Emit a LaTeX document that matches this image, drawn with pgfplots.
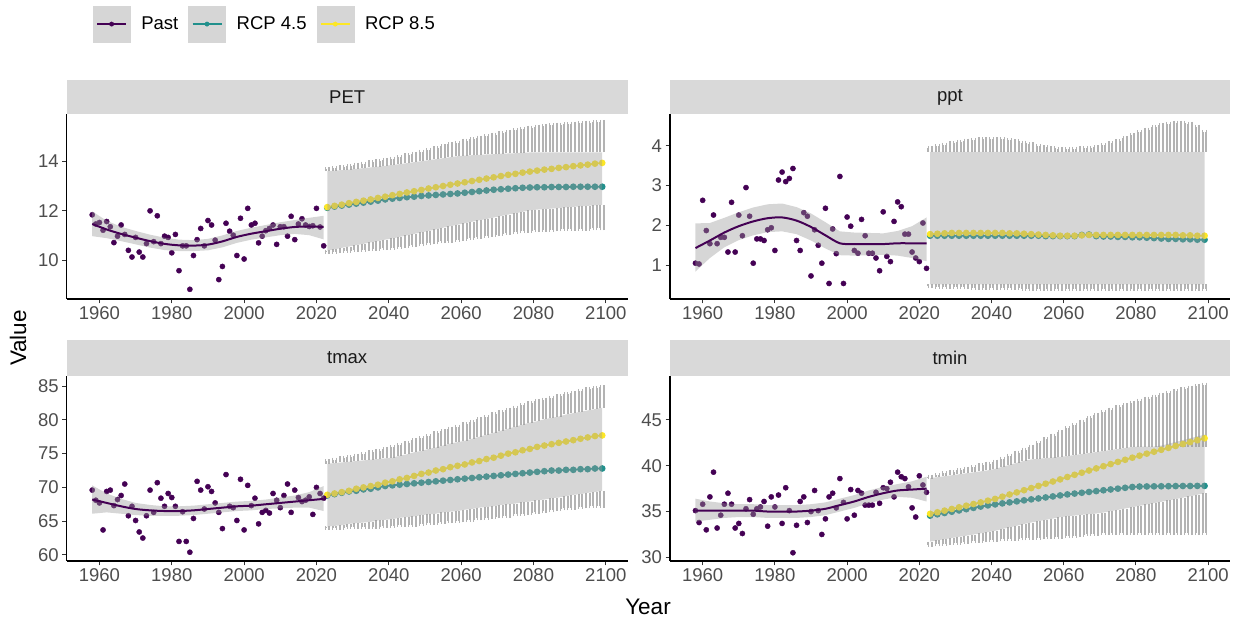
\documentclass[border=0pt]{standalone}
\usepackage{pgfplots}
\pgfplotsset{compat=1.18}
\usepackage{pgfplotstable}
\usepackage{fontspec}
\setmainfont{Liberation Sans}

\definecolor{pastc}{HTML}{440154}
\definecolor{rcpa}{HTML}{21908C}
\definecolor{rcpb}{HTML}{FDE725}
\definecolor{barc}{HTML}{B3B3B3}
\definecolor{ribc}{HTML}{999999}
\definecolor{stripc}{HTML}{D9D9D9}
\definecolor{keyc}{HTML}{D6D6D6}
\definecolor{labc}{HTML}{4D4D4D}
\definecolor{ticc}{HTML}{333333}
\definecolor{stxt}{HTML}{1A1A1A}

% ---------------- PET ----------------
\pgfplotstableread{
yr v
1958 11.84
1959 11.47
1960 11.53
1961 11.22
1962 11.57
1963 11.36
1964 10.72
1965 10.98
1966 11.43
1967 11.05
1968 10.41
1969 10.14
1970 10.93
1971 10.34
1972 10.14
1973 10.68
1974 12.00
1975 10.76
1976 11.80
1977 10.68
1978 10.98
1979 10.93
1980 10.31
1981 11.05
1982 9.59
1983 10.59
1984 10.59
1985 8.84
1986 10.20
1987 10.84
1988 11.29
1989 10.59
1990 11.61
1991 11.43
1992 10.82
1993 9.23
1994 9.76
1995 11.50
1996 11.18
1997 11.02
1998 10.20
1999 11.70
2000 10.06
2001 12.10
2002 11.43
2003 11.50
2004 10.71
2005 10.98
2006 11.20
2007 11.29
2008 11.43
2009 10.65
2010 11.36
2011 11.36
2012 10.98
2013 11.78
2014 10.84
2015 11.47
2016 11.68
2017 11.43
2018 11.37
2019 11.40
2020 12.10
2021 11.35
2022 10.59
}\petP
\pgfplotstableread{
yr s lo hi
1958 11.47 10.98 11.98
1962 11.25 10.90 11.60
1966 11.07 10.78 11.36
1970 10.92 10.65 11.19
1974 10.78 10.52 11.04
1978 10.67 10.42 10.92
1982 10.61 10.38 10.84
1986 10.60 10.38 10.82
1990 10.64 10.41 10.87
1994 10.77 10.53 11.01
1998 10.95 10.71 11.19
2002 11.08 10.84 11.32
2006 11.18 10.93 11.43
2010 11.28 11.02 11.54
2014 11.35 11.07 11.63
2018 11.37 11.02 11.72
2022 11.35 10.85 11.80
}\petS
\pgfplotstableread{
yr a b rl rh u l
2023 12.12 12.15 10.40 13.60 13.67 10.34
2025 12.17 12.20 10.45 13.62 13.71 10.36
2027 12.21 12.25 10.51 13.64 13.76 10.38
2029 12.25 12.31 10.56 13.66 13.81 10.40
2031 12.29 12.36 10.62 13.69 13.86 10.42
2033 12.33 12.41 10.67 13.72 13.90 10.44
2035 12.37 12.46 10.73 13.75 13.95 10.46
2037 12.41 12.52 10.78 13.78 14.00 10.48
2039 12.46 12.57 10.84 13.81 14.05 10.50
2041 12.49 12.63 10.89 13.85 14.10 10.52
2043 12.52 12.68 10.95 13.88 14.15 10.54
2045 12.55 12.74 11.01 13.92 14.23 10.58
2047 12.57 12.79 11.07 13.96 14.30 10.62
2049 12.60 12.84 11.13 14.00 14.38 10.65
2051 12.62 12.90 11.19 14.04 14.45 10.69
2053 12.64 12.95 11.25 14.08 14.53 10.73
2055 12.66 13.00 11.32 14.12 14.60 10.77
2057 12.68 13.05 11.38 14.16 14.68 10.80
2059 12.70 13.10 11.44 14.20 14.75 10.84
2061 12.73 13.15 11.50 14.22 14.83 10.88
2063 12.76 13.20 11.56 14.24 14.89 10.92
2065 12.79 13.25 11.62 14.25 14.95 10.95
2067 12.82 13.30 11.67 14.27 15.01 10.99
2069 12.85 13.35 11.73 14.28 15.07 11.03
2071 12.87 13.40 11.79 14.30 15.12 11.06
2073 12.89 13.45 11.85 14.31 15.18 11.10
2075 12.91 13.49 11.90 14.32 15.24 11.13
2077 12.93 13.54 11.96 14.34 15.30 11.17
2079 12.94 13.58 12.02 14.35 15.35 11.20
2081 12.95 13.62 12.05 14.35 15.39 11.22
2083 12.95 13.66 12.07 14.35 15.42 11.23
2085 12.96 13.69 12.09 14.35 15.44 11.24
2087 12.96 13.73 12.11 14.35 15.47 11.25
2089 12.96 13.76 12.14 14.35 15.49 11.26
2091 12.97 13.80 12.16 14.35 15.51 11.27
2093 12.97 13.83 12.18 14.35 15.53 11.27
2095 12.97 13.86 12.20 14.35 15.55 11.28
2097 12.97 13.90 12.22 14.35 15.57 11.29
2099 12.97 13.93 12.24 14.35 15.58 11.29
}\petF

% ---------------- ppt ----------------
\pgfplotstableread{
yr v
1958 1.05
1959 1.03
1960 2.63
1961 1.87
1962 1.54
1963 2.26
1964 1.54
1965 1.70
1966 1.70
1967 1.33
1968 2.58
1969 1.33
1970 2.26
1971 1.74
1972 2.95
1973 2.23
1974 1.05
1975 1.66
1976 1.66
1977 1.62
1978 1.89
1979 1.94
1980 1.37
1981 3.14
1982 3.34
1983 3.10
1984 3.18
1985 3.43
1986 1.62
1987 1.37
1988 2.32
1989 2.23
1990 0.73
1991 1.89
1992 1.50
1993 1.05
1994 2.43
1995 0.54
1996 1.91
1997 1.29
1998 3.23
1999 0.54
2000 2.21
2001 1.98
2002 1.37
2003 1.30
2004 2.15
2005 1.74
2006 1.30
2007 1.30
2008 1.18
2009 0.86
2010 2.34
2011 1.22
2012 1.09
2013 2.10
2014 2.59
2015 2.47
2016 1.78
2017 1.78
2018 1.33
2019 1.18
2020 1.09
2021 2.06
2022 0.92
}\pptP
\pgfplotstableread{
yr s lo hi
1958 1.43 0.84 2.05
1962 1.62 1.18 2.06
1966 1.82 1.45 2.19
1970 1.98 1.63 2.33
1974 2.10 1.75 2.45
1978 2.18 1.83 2.53
1982 2.20 1.85 2.55
1986 2.12 1.78 2.46
1990 1.96 1.62 2.30
1994 1.75 1.42 2.08
1998 1.55 1.25 1.85
2002 1.53 1.24 1.82
2006 1.53 1.25 1.81
2010 1.53 1.26 1.80
2014 1.55 1.24 1.86
2018 1.55 1.18 1.98
2022 1.55 1.10 2.20
}\pptS
\pgfplotstableread{
yr a b rl rh u l
2023 1.74 1.78 0.52 3.85 3.94 0.47
2025 1.74 1.79 0.52 3.85 3.99 0.46
2027 1.74 1.80 0.52 3.85 4.03 0.45
2029 1.74 1.81 0.52 3.85 4.07 0.45
2031 1.74 1.81 0.52 3.85 4.10 0.44
2033 1.74 1.81 0.52 3.85 4.13 0.44
2035 1.74 1.81 0.52 3.85 4.15 0.43
2037 1.74 1.81 0.52 3.85 4.16 0.43
2039 1.74 1.81 0.52 3.85 4.17 0.43
2041 1.74 1.81 0.52 3.85 4.17 0.42
2043 1.74 1.81 0.52 3.85 4.16 0.42
2045 1.74 1.80 0.52 3.85 4.14 0.42
2047 1.74 1.80 0.52 3.85 4.11 0.42
2049 1.74 1.79 0.52 3.85 4.08 0.41
2051 1.74 1.78 0.52 3.85 4.04 0.41
2053 1.74 1.77 0.52 3.85 4.00 0.41
2055 1.73 1.76 0.52 3.85 3.97 0.40
2057 1.73 1.75 0.52 3.85 3.94 0.40
2059 1.73 1.74 0.52 3.85 3.92 0.40
2061 1.73 1.74 0.52 3.85 3.92 0.40
2063 1.73 1.74 0.52 3.85 3.93 0.40
2065 1.76 1.75 0.52 3.85 3.94 0.40
2067 1.77 1.76 0.52 3.85 3.95 0.40
2069 1.73 1.76 0.52 3.85 3.97 0.40
2071 1.72 1.76 0.52 3.85 4.01 0.40
2073 1.72 1.76 0.52 3.85 4.06 0.40
2075 1.71 1.76 0.52 3.85 4.12 0.40
2077 1.71 1.76 0.52 3.85 4.19 0.40
2079 1.70 1.76 0.52 3.85 4.27 0.40
2081 1.70 1.76 0.52 3.85 4.34 0.40
2083 1.69 1.76 0.52 3.85 4.41 0.40
2085 1.68 1.76 0.52 3.85 4.47 0.40
2087 1.67 1.76 0.52 3.85 4.52 0.40
2089 1.66 1.76 0.52 3.85 4.56 0.40
2091 1.66 1.76 0.52 3.85 4.58 0.40
2093 1.65 1.75 0.52 3.85 4.58 0.40
2095 1.65 1.75 0.52 3.85 4.56 0.40
2097 1.64 1.74 0.52 3.85 4.48 0.40
2099 1.64 1.74 0.52 3.85 4.35 0.40
}\pptF

% ---------------- tmax ----------------
\pgfplotstableread{
yr v
1958 69.6
1959 68.1
1960 67.7
1961 63.7
1962 69.4
1963 69.6
1964 67.3
1965 68.2
1966 68.8
1967 70.5
1968 65.8
1969 67.2
1970 65.1
1971 63.4
1972 62.5
1973 65.8
1974 69.6
1975 66.3
1976 70.7
1977 68.4
1978 67.2
1979 69.1
1980 68.5
1981 67.2
1982 62.0
1983 66.4
1984 62.0
1985 60.4
1986 65.4
1987 70.9
1988 69.6
1989 66.8
1990 70.1
1991 69.4
1992 67.7
1993 66.3
1994 63.9
1995 71.9
1996 67.2
1997 67.0
1998 65.1
1999 71.2
2000 63.7
2001 70.3
2002 67.3
2003 68.4
2004 64.6
2005 66.3
2006 66.6
2007 66.2
2008 69.1
2009 68.1
2010 67.0
2011 68.8
2012 70.5
2013 66.3
2014 69.6
2015 68.5
2016 67.9
2017 68.1
2018 68.6
2019 66.0
2020 70.0
2021 69.1
2022 68.4
}\tmaxP
\pgfplotstableread{
yr s lo hi
1958 68.2 66.1 70.3
1962 67.7 66.3 69.1
1966 67.2 66.1 68.3
1970 66.8 65.9 67.7
1974 66.6 65.8 67.4
1978 66.5 65.8 67.2
1982 66.5 65.8 67.2
1986 66.6 65.9 67.3
1990 66.8 66.1 67.5
1994 67.0 66.3 67.7
1998 67.2 66.5 67.9
2002 67.3 66.6 68.0
2006 67.5 66.8 68.2
2010 67.7 66.9 68.5
2014 67.9 67.0 68.8
2018 68.1 67.0 69.3
2022 68.3 66.5 70.2
}\tmaxS
\pgfplotstableread{
yr a b rl rh u l
2023 68.8 68.9 64.2 73.5 73.9 64.0
2025 69.0 69.1 64.3 73.6 74.1 64.0
2027 69.2 69.3 64.4 73.7 74.3 64.0
2029 69.4 69.5 64.6 73.8 74.5 64.1
2031 69.5 69.8 64.7 73.9 74.7 64.1
2033 69.7 70.0 64.8 74.0 74.9 64.1
2035 69.8 70.2 64.9 74.1 75.2 64.2
2037 70.0 70.4 65.1 74.2 75.4 64.2
2039 70.2 70.7 65.2 74.3 75.7 64.3
2041 70.3 70.9 65.3 74.4 76.0 64.3
2043 70.4 71.2 65.5 74.7 76.3 64.4
2045 70.5 71.4 65.6 74.9 76.6 64.5
2047 70.6 71.7 65.7 75.2 77.0 64.5
2049 70.7 72.0 65.9 75.4 77.3 64.6
2051 70.8 72.2 66.0 75.7 77.6 64.7
2053 70.9 72.5 66.1 75.9 78.0 64.8
2055 71.0 72.7 66.3 76.2 78.3 64.9
2057 71.1 73.0 66.4 76.5 78.7 65.0
2059 71.2 73.2 66.5 76.7 79.0 65.0
2061 71.3 73.4 66.7 76.9 79.4 65.1
2063 71.4 73.7 66.8 77.2 79.7 65.2
2065 71.5 73.9 67.0 77.5 80.1 65.4
2067 71.6 74.2 67.1 77.8 80.4 65.5
2069 71.7 74.4 67.2 78.1 80.8 65.6
2071 71.8 74.7 67.4 78.4 81.1 65.7
2073 71.9 75.0 67.5 78.7 81.5 65.8
2075 72.0 75.2 67.6 79.0 81.8 66.0
2077 72.1 75.5 67.8 79.3 82.2 66.1
2079 72.2 75.7 67.9 79.6 82.5 66.2
2081 72.3 76.0 68.1 79.8 82.8 66.4
2083 72.4 76.2 68.2 80.1 83.0 66.5
2085 72.5 76.4 68.4 80.3 83.3 66.6
2087 72.5 76.6 68.5 80.5 83.5 66.8
2089 72.6 76.8 68.7 80.8 83.8 66.9
2091 72.6 77.0 68.9 81.0 84.0 67.0
2093 72.7 77.2 69.0 81.2 84.3 67.1
2095 72.7 77.4 69.2 81.4 84.5 67.2
2097 72.8 77.6 69.3 81.6 84.7 67.3
2099 72.8 77.7 69.5 81.8 84.8 67.3
}\tmaxF

% ---------------- tmin ----------------
\pgfplotstableread{
yr v
1958 35.1
1959 33.8
1960 35.8
1961 33.0
1962 36.6
1963 39.3
1964 33.2
1965 34.6
1966 35.8
1967 37.0
1968 35.8
1969 33.2
1970 33.7
1971 32.6
1972 35.3
1973 36.3
1974 34.7
1975 35.3
1976 35.5
1977 36.1
1978 33.4
1979 36.6
1980 35.5
1981 36.8
1982 33.7
1983 37.6
1984 35.1
1985 30.5
1986 33.5
1987 36.1
1988 36.6
1989 33.8
1990 35.0
1991 37.3
1992 35.1
1993 32.5
1994 34.2
1995 36.6
1996 37.0
1997 35.4
1998 38.6
1999 36.0
2000 34.2
2001 37.4
2002 34.6
2003 37.3
2004 37.0
2005 35.7
2006 35.7
2007 35.7
2008 37.1
2009 35.9
2010 37.6
2011 37.5
2012 38.2
2013 36.6
2014 39.3
2015 38.8
2016 38.6
2017 37.7
2018 35.4
2019 34.4
2020 38.9
2021 37.9
2022 37.1
}\tminP
\pgfplotstableread{
yr s lo hi
1958 35.1 33.9 36.4
1962 35.1 34.1 36.1
1966 35.1 34.3 35.9
1970 35.1 34.4 35.8
1974 35.1 34.4 35.8
1978 35.0 34.3 35.7
1982 35.0 34.3 35.7
1986 35.0 34.3 35.7
1990 35.1 34.4 35.8
1994 35.3 34.6 36.0
1998 35.7 35.0 36.4
2002 36.1 35.4 36.8
2006 36.6 35.9 37.3
2010 37.0 36.3 37.7
2014 37.3 36.6 38.0
2018 37.4 36.5 38.3
2022 37.5 36.1 38.8
}\tminS
\pgfplotstableread{
yr a b rl rh u l rt
2023 34.55 34.75 31.72 38.65 38.80 31.36 38.65
2025 34.70 34.92 31.85 38.75 38.98 31.42 38.75
2027 34.84 35.10 31.98 38.86 39.16 31.49 38.86
2029 34.98 35.28 32.11 38.96 39.33 31.55 38.96
2031 35.12 35.46 32.24 39.07 39.51 31.61 39.07
2033 35.26 35.64 32.36 39.18 39.69 31.68 39.18
2035 35.40 35.82 32.49 39.28 39.86 31.74 39.28
2037 35.54 36.00 32.62 39.39 40.04 31.80 39.39
2039 35.67 36.19 32.75 39.50 40.22 31.87 39.50
2041 35.78 36.38 32.90 39.66 40.46 31.92 39.66
2043 35.89 36.62 33.09 39.88 40.79 31.96 39.88
2045 36.00 36.86 33.27 40.10 41.11 32.00 40.10
2047 36.11 37.09 33.45 40.32 41.44 32.04 40.32
2049 36.22 37.33 33.64 40.54 41.77 32.08 40.54
2051 36.33 37.56 33.80 40.69 42.10 32.12 40.69
2053 36.43 37.80 33.95 40.76 42.50 32.15 40.76
2055 36.54 38.04 34.09 40.83 42.90 32.18 40.83
2057 36.65 38.28 34.23 40.90 43.30 32.21 40.90
2059 36.76 38.51 34.38 40.97 43.70 32.25 40.97
2061 36.87 38.77 34.49 41.06 44.08 32.31 41.06
2063 36.96 39.01 34.56 41.17 44.45 32.38 41.17
2065 37.05 39.24 34.64 41.28 44.82 32.46 41.28
2067 37.14 39.48 34.71 41.39 45.19 32.53 41.39
2069 37.23 39.71 34.78 41.50 45.56 32.60 41.50
2071 37.32 39.95 34.89 41.61 45.88 32.64 41.61
2073 37.41 40.18 35.04 41.72 46.13 32.64 41.72
2075 37.50 40.42 35.18 41.83 46.38 32.64 41.83
2077 37.59 40.65 35.33 41.94 46.63 32.64 41.94
2079 37.68 40.88 35.48 42.05 46.88 32.64 42.05
2081 37.73 41.10 35.62 42.10 47.11 32.64 42.10
2083 37.74 41.32 35.77 42.10 47.33 32.64 42.10
2085 37.75 41.53 35.92 42.10 47.55 32.64 42.10
2087 37.76 41.74 36.06 42.10 47.77 32.64 42.20
2089 37.77 41.95 36.21 42.10 47.99 32.64 42.40
2091 37.78 42.16 36.36 42.10 48.18 32.64 42.60
2093 37.79 42.37 36.51 42.10 48.35 32.64 42.80
2095 37.79 42.58 36.66 42.10 48.52 32.64 43.00
2097 37.80 42.79 36.84 42.10 48.68 32.64 43.20
2099 37.80 43.00 37.00 42.10 48.85 32.64 43.40
}\tminF

\pgfplotsset{
  panel/.style={
    scale only axis, width=561pt, height=185pt,
    xmin=1950.95, xmax=2106.05,
    axis x line*=bottom, axis y line*=left,
    axis line style={-, line width=1.1pt, black},
    xtick={1960,1980,...,2100},
    tick align=outside, major tick length=4.5pt,
    tick style={line width=1pt, ticc},
    minor tick num=0,
    tick label style={font=\fontsize{18.5}{19}\selectfont, text=labc},
    /pgf/number format/assume math mode=true,
    /pgf/number format/1000 sep={},
  },
  upbars/.style={forget plot, draw=none, mark=none,
    error bars/.cd, y dir=plus, y explicit,
    error bar style={draw=barc, line width=2pt},
    error mark options={draw=barc, line width=1.3pt, mark size=2pt}},
  lobars/.style={forget plot, draw=none, mark=none,
    error bars/.cd, y dir=minus, y explicit,
    error bar style={draw=barc, line width=2pt},
    error mark options={draw=barc, line width=1.3pt, mark size=2pt}},
  fut/.style={forget plot, line width=1.8pt, mark=*, mark size=2.4pt},
  rib/.style={forget plot, draw=none, fill=ribc, fill opacity=0.4, stack plots=y},
  legkey/.style={legend image code/.code={
      \fill[keyc] (0pt,-18pt) rectangle (37pt,18pt);
      \draw[line width=2pt] (4pt,0pt) -- (33pt,0pt);
      \fill (18.5pt,0pt) circle (2.2pt);}},
}

% under the ribbons: error bars, scenario lines, past points
\newcommand{\facetA}[2]{%
  \addplot[upbars] table[x expr=\thisrow{yr}-0.5, y=rh, y error plus expr=\thisrow{u}-\thisrow{rh}]{#1};
  \addplot[upbars] table[x expr=\thisrow{yr}+0.5, y=rh, y error plus expr=\thisrow{u}-\thisrow{rh}]{#1};
  \addplot[lobars] table[x expr=\thisrow{yr}-0.5, y=rl, y error minus expr=\thisrow{rl}-\thisrow{l}]{#1};
  \addplot[lobars] table[x expr=\thisrow{yr}+0.5, y=rl, y error minus expr=\thisrow{rl}-\thisrow{l}]{#1};
  \addplot[rcpa, fut] table[x=yr, y=a]{#1};
  \addplot[rcpb, fut] table[x=yr, y=b]{#1};
  \addplot[pastc, only marks, mark=*, mark size=2.6pt, forget plot] table[x=yr, y=v]{#2};
}
% future ribbon (own axis, so the stack starts afresh); #2 = column of its top edge
\newcommand{\facetB}[2]{%
  \addplot[forget plot, draw=none, stack plots=y] table[x=yr, y=rl]{#1};
  \addplot[rib] table[x=yr, y expr=\thisrow{#2}-\thisrow{rl}]{#1} \closedcycle;
}
% past ribbon and smooth line
\newcommand{\facetC}[1]{%
  \addplot[forget plot, draw=none, stack plots=y] table[x=yr, y=lo]{#1};
  \addplot[rib] table[x=yr, y expr=\thisrow{hi}-\thisrow{lo}]{#1} \closedcycle;
  \addplot[pastc, line width=2pt, smooth, forget plot] table[x=yr, y=s]{#1};
}

\begin{document}
\begin{tikzpicture}[x=1pt, y=1pt]

% PET (top left)
\begin{axis}[panel, at={(66.7pt,321pt)}, anchor=south west,
  ymin=8.45, ymax=15.9, ytick={10,12,14},
  legend style={at={(0.041,1.486)}, anchor=west, draw=none, fill=none,
    legend columns=3, font=\fontsize{18.5}{19}\selectfont,
    nodes={inner sep=0pt},
    /tikz/every odd column/.append style={column sep=11pt},
    /tikz/every even column/.append style={column sep=10pt}},
  legend cell align=left]
  \addlegendimage{legkey, pastc}\addlegendentry{Past}
  \addlegendimage{legkey, rcpa}\addlegendentry{RCP 4.5}
  \addlegendimage{legkey, rcpb}\addlegendentry{RCP 8.5}
  \facetA{\petF}{\petP}
\end{axis}
\begin{axis}[panel, hide axis, at={(66.7pt,321pt)}, anchor=south west, ymin=8.45, ymax=15.9]
  \facetB{\petF}{rh}
\end{axis}
\begin{axis}[panel, hide axis, at={(66.7pt,321pt)}, anchor=south west, ymin=8.45, ymax=15.9]
  \facetC{\petS}
\end{axis}

% ppt (top right)
\begin{axis}[panel, width=560pt, at={(670pt,321pt)}, anchor=south west,
  ymin=0.15, ymax=4.8, ytick={1,2,3,4}]
  \facetA{\pptF}{\pptP}
\end{axis}
\begin{axis}[panel, hide axis, width=560pt, at={(670pt,321pt)}, anchor=south west, ymin=0.15, ymax=4.8]
  \facetB{\pptF}{rh}
\end{axis}
\begin{axis}[panel, hide axis, width=560pt, at={(670pt,321pt)}, anchor=south west, ymin=0.15, ymax=4.8]
  \facetC{\pptS}
\end{axis}

% tmax (bottom left)
\begin{axis}[panel, at={(66.7pt,59pt)}, anchor=south west,
  ymin=59.1, ymax=86.5, ytick={60,65,...,85}]
  \facetA{\tmaxF}{\tmaxP}
\end{axis}
\begin{axis}[panel, hide axis, at={(66.7pt,59pt)}, anchor=south west, ymin=59.1, ymax=86.5]
  \facetB{\tmaxF}{rh}
\end{axis}
\begin{axis}[panel, hide axis, at={(66.7pt,59pt)}, anchor=south west, ymin=59.1, ymax=86.5]
  \facetC{\tmaxS}
\end{axis}

% tmin (bottom right)
\begin{axis}[panel, width=560pt, at={(670pt,59pt)}, anchor=south west,
  ymin=29.6, ymax=49.8, ytick={30,35,40,45}]
  \facetA{\tminF}{\tminP}
\end{axis}
\begin{axis}[panel, hide axis, width=560pt, at={(670pt,59pt)}, anchor=south west, ymin=29.6, ymax=49.8]
  \facetB{\tminF}{rt}
\end{axis}
\begin{axis}[panel, hide axis, width=560pt, at={(670pt,59pt)}, anchor=south west, ymin=29.6, ymax=49.8]
  \facetC{\tminS}
\end{axis}

% strips
\fill[stripc] (66.7,506) rectangle (627.7,540);
\fill[stripc] (670,506) rectangle (1230,540);
\fill[stripc] (66.7,244.3) rectangle (627.7,280);
\fill[stripc] (670,244.3) rectangle (1230,280);
\node[text=stxt, font=\fontsize{18.5}{19}\selectfont] at (347.2,523) {PET};
\node[text=stxt, font=\fontsize{18.5}{19}\selectfont] at (950,523) {ppt};
\node[text=stxt, font=\fontsize{18.5}{19}\selectfont] at (347.2,262.2) {tmax};
\node[text=stxt, font=\fontsize{18.5}{19}\selectfont] at (950,262.2) {tmin};

% axis titles
\node[rotate=90, font=\fontsize{22.5}{23}\selectfont] at (18,282) {Value};
\node[font=\fontsize{22.5}{23}\selectfont] at (648,13) {Year};

\pgfresetboundingbox
\path[use as bounding box] (0,0) rectangle (1248,620);
\end{tikzpicture}
\end{document}
